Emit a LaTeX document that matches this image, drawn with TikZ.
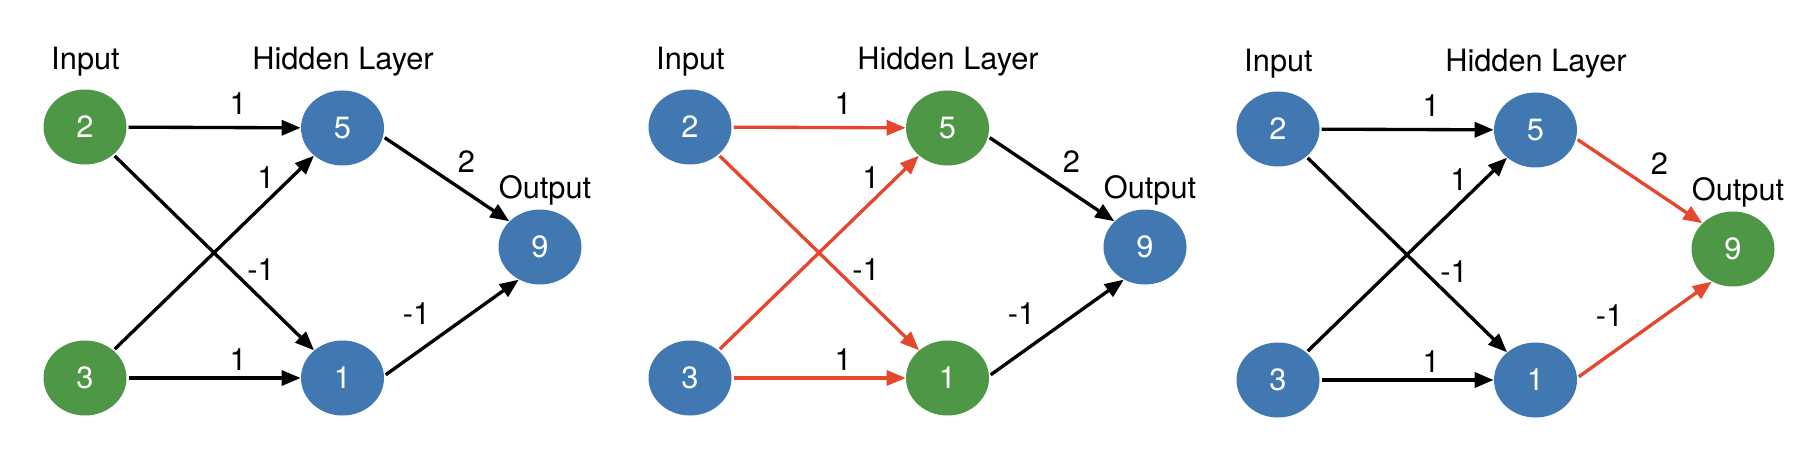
\documentclass[tikz,border=0pt]{standalone}
\usepackage{fontspec}
\setmainfont{TeX Gyre Heros}
\usetikzlibrary{shapes.geometric,arrows.meta,positioning}
\definecolor{nblue}{RGB}{65,120,178}
\definecolor{ngreen}{RGB}{78,151,70}
\definecolor{ered}{RGB}{228,70,46}
\begin{document}
\begin{tikzpicture}[font=\fontsize{17.5}{20}\selectfont] % три копии одной сети
\tikzstyle{myblue} = [ellipse, fill=nblue, text=white, minimum width=1.66cm, minimum height=1.5cm, inner sep=0pt] % blue neuron
\tikzstyle{mygreen} = [myblue, fill=ngreen] % green neuron
\tikzstyle{myhead} = [anchor=base] % подпись слоя
\tikzstyle{myedge} = [line width=1.9pt, -{Triangle[length=0.38cm,width=0.3cm]}, shorten <=1pt] % связь с весом
\tikzstyle{myred} = [myedge, ered]
\useasboundingbox (0,0) rectangle (36,9);
% сеть a: зелёные входы
\begin{scope}
\node[mygreen] (a2) at (1.7,6.46) {2};
\node[mygreen] (a3) at (1.7,1.44) {3};
\node[myblue] (a5) at (6.85,6.44) {5};
\node[myblue] (a1) at (6.85,1.44) {1};
\node[myblue] (a9) at (10.8,4.06) {9};
\node[myhead] (ain) at (1.71,7.6) {Input};
\node[myhead] (ahid) at (6.86,7.6) {Hidden Layer};
\node[myhead] (aout) at (10.9,5.03) {Output};
\draw[myedge] (a2) -- node[pos=0.64, above=0.12cm] {1} (a5);
\draw[myedge] (a3) -- node[pos=0.89, left=0.2cm] {1} (a5);
\draw[myedge] (a2) -- node[pos=0.59, right=0.16cm] {-1} (a1);
\draw[myedge] (a3) -- node[pos=0.64, above] {1} (a1);
\draw[myedge] (a5.-12) -- node[pos=0.66, above=0.24cm] {2} (a9.140);
\draw[myedge] (a1.3) -- node[pos=0.24, above=0.42cm] {-1} (a9.237);
\end{scope}
% сеть b: зелёный скрытый слой, красные входные связи
\begin{scope}[xshift=12.1cm]
\node[myblue] (b2) at (1.7,6.46) {2};
\node[myblue] (b3) at (1.7,1.44) {3};
\node[mygreen] (b5) at (6.85,6.44) {5};
\node[mygreen] (b1) at (6.85,1.44) {1};
\node[myblue] (b9) at (10.8,4.06) {9};
\node[myhead] (bin) at (1.71,7.6) {Input};
\node[myhead] (bhid) at (6.86,7.6) {Hidden Layer};
\node[myhead] (bout) at (10.9,5.03) {Output};
\draw[myred] (b2) -- node[pos=0.64, above=0.12cm, black] {1} (b5);
\draw[myred] (b3) -- node[pos=0.89, left=0.2cm, black] {1} (b5);
\draw[myred] (b2) -- node[pos=0.59, right=0.16cm, black] {-1} (b1);
\draw[myred] (b3) -- node[pos=0.64, above, black] {1} (b1);
\draw[myedge] (b5.-12) -- node[pos=0.66, above=0.24cm] {2} (b9.140);
\draw[myedge] (b1.3) -- node[pos=0.24, above=0.42cm] {-1} (b9.237);
\end{scope}
% сеть c: зелёный выход, красные выходные связи
\begin{scope}[xshift=23.86cm, yshift=-0.04cm]
\node[myblue] (c2) at (1.7,6.46) {2};
\node[myblue] (c3) at (1.7,1.44) {3};
\node[myblue] (c5) at (6.85,6.44) {5};
\node[myblue] (c1) at (6.85,1.44) {1};
\node[mygreen] (c9) at (10.8,4.06) {9};
\node[myhead] (cin) at (1.71,7.6) {Input};
\node[myhead] (chid) at (6.86,7.6) {Hidden Layer};
\node[myhead] (cout) at (10.9,5.03) {Output};
\draw[myedge] (c2) -- node[pos=0.64, above=0.12cm] {1} (c5);
\draw[myedge] (c3) -- node[pos=0.89, left=0.2cm] {1} (c5);
\draw[myedge] (c2) -- node[pos=0.59, right=0.16cm] {-1} (c1);
\draw[myedge] (c3) -- node[pos=0.64, above] {1} (c1);
\draw[myred] (c5.-12) -- node[pos=0.66, above=0.24cm, black] {2} (c9.140);
\draw[myred] (c1.3) -- node[pos=0.24, above=0.42cm, black] {-1} (c9.237);
\end{scope}
\end{tikzpicture}
\end{document}
